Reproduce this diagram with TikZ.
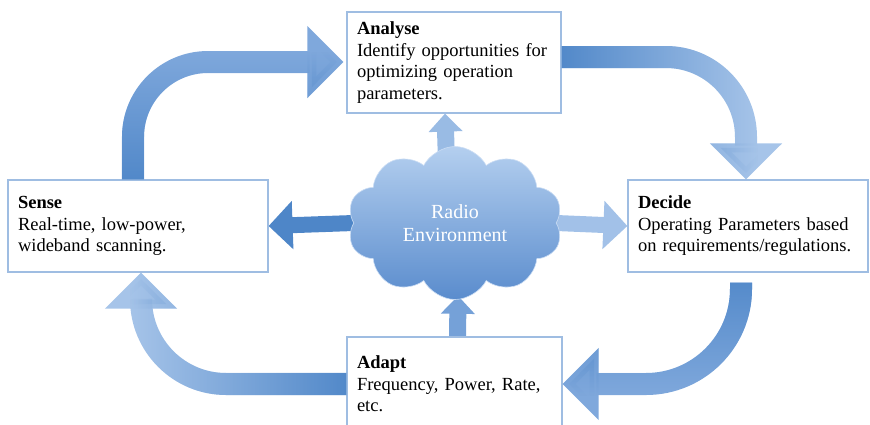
\documentclass[tikz,border=0pt]{standalone}
\usepackage{fontspec}
\setmainfont{Liberation Serif}
\usetikzlibrary{arrows.meta, shapes.symbols, fadings, backgrounds}

\definecolor{boxline}{HTML}{9FBDE2}
\definecolor{arrowlight}{HTML}{A6C4E9}
\definecolor{arrowmid}{HTML}{7FA8DC}
\definecolor{arrowdark}{HTML}{4E86C8}
\definecolor{cloudtop}{HTML}{B4CFEF}
\definecolor{cloudbot}{HTML}{5A8CCD}

\begin{document}
\begin{tikzpicture}[x=1pt, y=-1pt,
	box/.style={draw=boxline, line width=1.2pt, fill=white, align=left,
		inner xsep=10pt, font=\fontsize{18.5}{21.5}\selectfont},
	bigarrow/.style={draw=arrowmid, line width=22pt, rounded corners=#1,
		-{Triangle[length=36pt, width=70pt]}},
	darkstart/.style={postaction={draw=arrowdark, path fading=#1}},
	smallarrow/.style={line width=16pt, -{Triangle[length=24pt, width=47pt]}},
	uparrow/.style={line width=17pt, -{Triangle[length=18pt, width=33pt]}}]
	\useasboundingbox (0,0) rectangle (870,424);

	\node [box, text width=194pt, minimum height=101pt] (analyse) at (454,62.5)
		{\textbf{Analyse}\\Identify opportunities for\\optimizing operation\\parameters.};
	\node [box, text width=240pt, minimum height=92pt] (sense) at (138,226)
		{\textbf{Sense}\\Real-time, low-power,\\wideband scanning.};
	\node [box, text width=220pt, minimum height=92pt] (decide) at (748,226)
		{\textbf{Decide}\\Operating Parameters based\\on requirements/regulations.};
	\node [box, text width=195pt, minimum height=94pt] (adapt) at (454.5,384)
		{\textbf{Adapt}\\Frequency, Power, Rate,\\etc.};

	\node [cloud, cloud puffs=10, cloud puff arc=125, cloud ignores aspect,
		minimum width=215pt, minimum height=153pt, top color=cloudtop,
		bottom color=cloudbot, draw=cloudtop!70!white, line width=0.6pt,
		text=white, align=center, font=\fontsize{20}{23}\selectfont]
		(env) at (455,223) {Radio\\Environment};

	\begin{scope}[on background layer]
		\draw [smallarrow, draw=arrowdark, shorten <=-12pt] (env.west) -- (sense.east);
		\draw [smallarrow, draw=arrowlight!90!arrowmid, shorten <=-12pt] (env.east) -- (decide.west);
		\draw [uparrow, draw=arrowlight!85!arrowdark, shorten <=-8pt] ([xshift=-9pt]env.north) -- ([xshift=-9pt]analyse.south);
		\draw [uparrow, draw=arrowmid!80!arrowdark, shorten >=-4pt] ([xshift=3pt]adapt.north) -- ([xshift=3pt]env.south);
	\end{scope}

	\coordinate (c1) at (133,62);
	\coordinate (c2) at (746,57);
	\coordinate (c3) at (741,384);
	\coordinate (c4) at (141,384);
	\draw [bigarrow=75pt, darkstart=north, shorten >=3pt] (sense.north -| c1) -- (c1) -- (analyse.west |- c1);
	\draw [bigarrow=80pt, draw=arrowlight, darkstart=east] (analyse.east |- c2) -- (c2) -- (decide.north -| c2);
	\draw [bigarrow=95pt, darkstart=south, shorten <=10pt] (decide.south -| c3) -- (c3) -- (adapt.east);
	\draw [bigarrow=85pt, draw=arrowlight, darkstart=west] (adapt.west) -- (c4) -- (sense.south -| c4);
\end{tikzpicture}
\end{document}
